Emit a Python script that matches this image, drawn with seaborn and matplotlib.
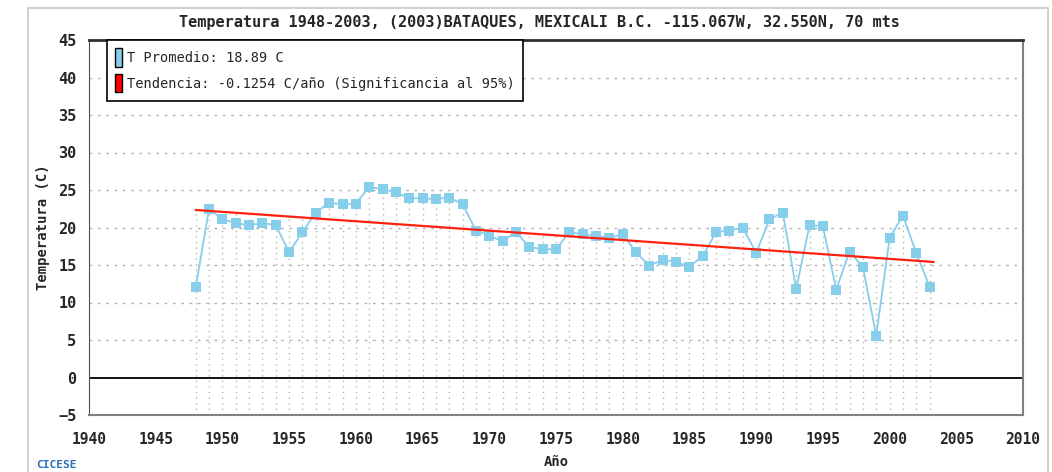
import numpy as np
import pandas as pd
import matplotlib
matplotlib.use("Agg")
import matplotlib.pyplot as plt
from matplotlib.patches import Patch, Rectangle
import seaborn as sns

years = list(range(1948, 2004))
temps = [12.1, 22.5, 21.1, 20.6, 20.3, 20.6, 20.3, 16.7, 19.4, 22.0,
         23.3, 23.1, 23.2, 25.4, 25.1, 24.7, 23.9, 23.9, 23.8, 24.0,
         23.1, 19.6, 18.9, 18.2, 19.4, 17.4, 17.1, 17.1, 19.4, 19.1,
         18.9, 18.6, 19.1, 16.7, 14.9, 15.7, 15.4, 14.8, 16.2, 19.4,
         19.6, 20.0, 16.6, 21.1, 22.0, 11.8, 20.3, 20.2, 11.7, 16.8,
         14.7, 5.6, 18.6, 21.6, 16.6, 12.1]
mean_temp = 18.89
slope = -0.1254
x_ticks = list(range(1940, 2011, 5))
y_ticks = list(range(-5, 46, 5))
title = "Temperatura 1948-2003, (2003)BATAQUES, MEXICALI B.C. -115.067W, 32.550N, 70 mts"
legend_labels = ["T Promedio: 18.89 C", "Tendencia: -0.1254 C/año (Significancia al 95%)"]

sns.set_style("white")
plt.rcParams['font.family'] = ['DejaVu Sans Mono', 'DejaVu Sans']

df = pd.DataFrame({"Año": years, "Temp": temps})
yr = np.array(years, dtype=float)
mid = yr.mean()
trend_x = np.array([years[0], years[-1] + 0.3])
trend_y = mean_temp + slope * (trend_x - mid)
trend_at = mean_temp + slope * (yr - mid)

fig = plt.figure(figsize=(10.52, 4.72), dpi=100)
ax = fig.add_axes([89/1052, 57/472, 934/1052, 375/472])

# per-year dotted vertical lines
ax.vlines(yr, -5, np.maximum(np.array(temps), trend_at), colors="#b4b4b4",
          linestyles=(0, (1, 3)), linewidth=1, zorder=1)
# horizontal grid
for v in y_ticks:
    if v not in (-5, 0, 45):
        ax.axhline(v, color="#b4b4b4", linestyle=(0, (2, 4)), linewidth=1, zorder=1)
ax.axhline(0, color="black", linewidth=1.3, zorder=2)

sns.lineplot(data=df, x="Año", y="Temp", ax=ax, color="#87CEEB", marker="s",
             markersize=6.5, markeredgewidth=0, linewidth=1.3, zorder=3)
ax.plot(trend_x, trend_y, color="#FF2010", linewidth=1.6, zorder=4)

ax.set_xlim(1940, 2010)
ax.set_ylim(-5, 45)
ax.set_xticks(x_ticks)
ax.set_yticks(y_ticks)
ax.tick_params(axis="x", direction="in", length=9, width=1, color="#404040",
               labelsize=10.5, pad=12)
ax.tick_params(axis="y", direction="out", length=6, width=1, color="#404040",
               labelsize=11, pad=3)
for lab in ax.get_xticklabels() + ax.get_yticklabels():
    lab.set_fontweight("bold")

ax.spines["top"].set_color("#303030")
ax.spines["top"].set_linewidth(2)
ax.spines["left"].set_color("#505050")
ax.spines["right"].set_color("#808080")
ax.spines["bottom"].set_color("#808080")
ax.spines["right"].set_linewidth(1.5)
ax.spines["bottom"].set_linewidth(1.5)

ax.set_xlabel("Año", fontsize=10, fontweight="bold", labelpad=6)
ax.set_ylabel("Temperatura (C)", fontsize=10, fontweight="bold", labelpad=6)
fig.text(0.513, 0.952, title, ha="center", va="center", fontsize=11, fontweight="bold")

handles = [Patch(facecolor="#87CEEB", edgecolor="black"),
           Patch(facecolor="#FF0000", edgecolor="black")]
leg = ax.legend(handles, legend_labels, loc="upper left", bbox_to_anchor=(0.019, 1.0),
                frameon=True, fancybox=False, edgecolor="black", framealpha=1,
                handlelength=0.5, handleheight=1.7, handletextpad=0.4,
                labelspacing=0.55, borderpad=0.6, fontsize=9.8, borderaxespad=0)
leg.get_frame().set_linewidth(1.2)

# outer frame and logo text
fig.patches.append(Rectangle((28/1052, -0.01), 1020/1052, 1 - 8/472 + 0.01,
                             transform=fig.transFigure, fill=False,
                             edgecolor="#c8c8c8", linewidth=1.2))
fig.text(56/1052, 1 - 465/472, "CICESE", ha="center", va="center",
         fontsize=8, fontweight="bold", color="#2a6fb5")

fig.savefig("out.png", dpi=100)
